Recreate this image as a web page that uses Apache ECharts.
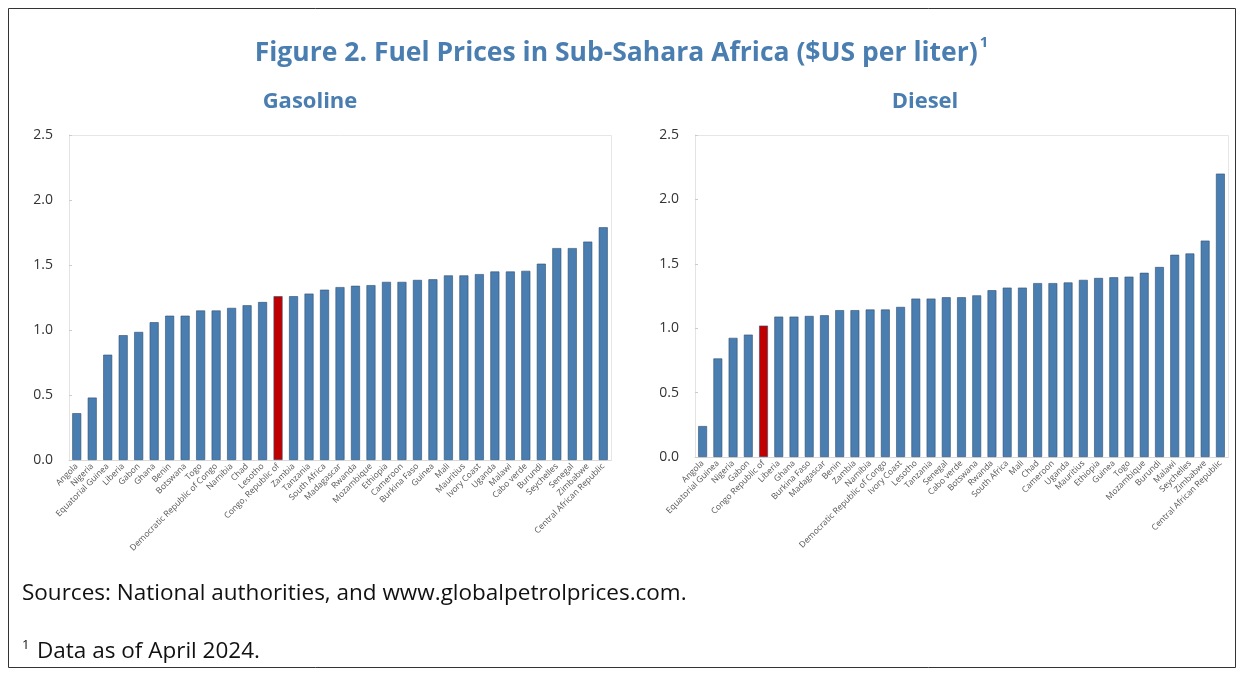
<!DOCTYPE html>
<html><head><meta charset="utf-8">
<script src="https://cdn.jsdelivr.net/npm/echarts@6/dist/echarts.min.js"></script>
<style>html,body{margin:0;padding:0;background:#fff}#c{width:1243px;height:675px}</style>
</head><body><div id="c"></div>
<script>
const gasCategories = ["Angola","Nigeria","Equatorial Guinea","Liberia","Gabon","Ghana","Benin","Botswana","Togo","Democratic Republic of Congo","Namibia","Chad","Lesotho","Congo, Republic of","Zambia","Tanzania","South Africa","Madagascar","Rwanda","Mozambique","Ethiopia","Cameroon","Burkina Faso","Guinea","Mali","Mauritius","Ivory Coast","Uganda","Malawi","Cabo verde","Burundi","Seychelles","Senegal","Zimbabwe","Central African Republic"];
const gasValues = [0.36,0.48,0.81,0.96,0.985,1.06,1.11,1.11,1.15,1.15,1.17,1.19,1.215,1.26,1.26,1.28,1.31,1.33,1.34,1.345,1.37,1.37,1.385,1.39,1.42,1.42,1.43,1.45,1.45,1.455,1.51,1.63,1.63,1.68,1.79];
const dieselCategories = ["Angola","Equatorial Guinea","Nigeria","Gabon","Congo Republic of","Liberia","Ghana","Burkina Faso","Madagascar","Benin","Zambia","Namibia","Democratic Republic of Congo","Ivory Coast","Lesotho","Tanzania","Senegal","Cabo verde","Botswana","Rwanda","South Africa","Mali","Chad","Cameroon","Uganda","Mauritius","Ethiopia","Guinea","Togo","Mozambique","Burundi","Malawi","Seychelles","Zimbabwe","Central African Republic"];
const dieselValues = [0.24,0.765,0.925,0.95,1.02,1.09,1.09,1.095,1.10,1.14,1.14,1.145,1.145,1.165,1.23,1.23,1.24,1.24,1.255,1.295,1.315,1.315,1.35,1.35,1.355,1.375,1.39,1.395,1.40,1.43,1.475,1.57,1.58,1.68,2.20];
const highlightGas = "Congo, Republic of";
const highlightDiesel = "Congo Republic of";
const yTicks = ["0.0","0.5","1.0","1.5","2.0","2.5"];

const BLUE = '#4a7eb0', RED = '#c00000', EDGE = '#2f4f70';
function barData(cats, vals, hi){
  return vals.map((v,i)=>({value:v, itemStyle:{color: cats[i]===hi?RED:BLUE}}));
}
function xAxis(idx, cats){
  return {gridIndex:idx, type:'category', data:cats,
    axisLine:{lineStyle:{color:'#d9d9d9'}}, axisTick:{show:false},
    axisLabel:{rotate:45, fontSize:8.5, color:'#555', interval:0, margin:5, fontFamily:'Open Sans'}};
}
function yAxis(idx){
  return {gridIndex:idx, type:'value', min:0, max:2.5, interval:0.5,
    axisLine:{show:true, lineStyle:{color:'#e3e3e3'}}, axisTick:{show:true, inside:true, length:3, lineStyle:{color:'#ccc'}},
    splitLine:{show:false},
    axisLabel:{fontSize:14, color:'#333', margin:16, fontFamily:'Open Sans', formatter:(v)=>yTicks[Math.round(v/0.5)]}};
}
const chart = echarts.init(document.getElementById('c'), null, {renderer:'canvas'});
chart.setOption({
  animation:false,
  backgroundColor:'#fff',
  title:[
    {text:'{t|Figure 2. Fuel Prices in Sub-Sahara Africa ($US per liter)}{s|1}', left:'center', top:30,
     textStyle:{rich:{
       t:{color:'#4a7eb0', fontSize:26.5, fontWeight:'bold', fontFamily:'Open Sans', lineHeight:36},
       s:{color:'#4a7eb0', fontSize:15, fontWeight:'bold', fontFamily:'Open Sans', verticalAlign:'top', padding:[0,0,14,2]}}}},
    {text:'Gasoline', left:305, top:86, textAlign:'center', textStyle:{color:'#4a7eb0', fontSize:22, fontWeight:'bold', fontFamily:'Open Sans'}},
    {text:'Diesel', left:920, top:86, textAlign:'center', textStyle:{color:'#4a7eb0', fontSize:22, fontWeight:'bold', fontFamily:'Open Sans'}}
  ],
  graphic:[
    {type:'rect', shape:{x:8.5,y:8.5,width:1227,height:659}, style:{fill:null, stroke:'#333', lineWidth:1}, silent:true},
    {type:'rect', shape:{x:69.5,y:135.5,width:542,height:325}, style:{fill:null, stroke:'#e6e6e6', lineWidth:1}, silent:true, z:-1},
    {type:'rect', shape:{x:695.5,y:135.5,width:533,height:322}, style:{fill:null, stroke:'#e6e6e6', lineWidth:1}, silent:true, z:-1},
    {type:'text', x:22, y:594, style:{text:'Sources: National authorities, and www.globalpetrolprices.com.', fill:'#111', font:'22.5px "Open Sans"', verticalAlign:'middle'}},
    {type:'text', x:22, y:645, style:{text:'1', fill:'#111', font:'13px "Open Sans"', verticalAlign:'middle'}},
    {type:'text', x:37, y:652, style:{text:'Data as of April 2024.', fill:'#111', font:'22.5px "Open Sans"', verticalAlign:'middle'}}
  ],
  grid:[
    {left:69, top:135, width:542, height:325},
    {left:695, top:135, width:533, height:322}
  ],
  xAxis:[xAxis(0, gasCategories), xAxis(1, dieselCategories)],
  yAxis:[yAxis(0), yAxis(1)],
  series:[
    {type:'bar', xAxisIndex:0, yAxisIndex:0, data:barData(gasCategories, gasValues, highlightGas), barWidth:'58%',
     itemStyle:{borderColor:EDGE, borderWidth:0.6}},
    {type:'bar', xAxisIndex:1, yAxisIndex:1, data:barData(dieselCategories, dieselValues, highlightDiesel), barWidth:'58%',
     itemStyle:{borderColor:EDGE, borderWidth:0.6}}
  ]
});
</script></body></html>
